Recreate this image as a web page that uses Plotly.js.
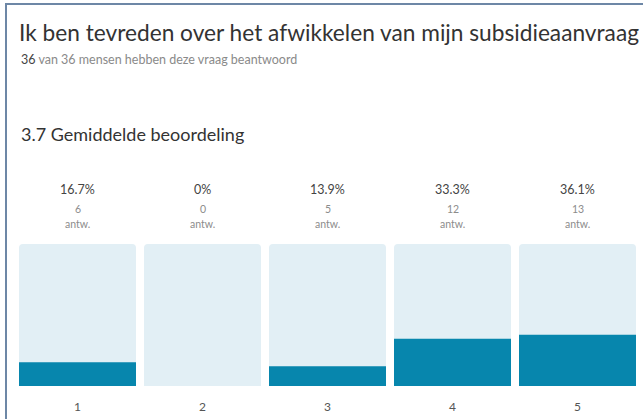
<!DOCTYPE html>
<html>
<head>
<meta charset="utf-8">
<script src="https://cdn.plot.ly/plotly-3.0.1.min.js"></script>
<style>
    body { margin: 0; background: #fff; }
    #frame {
        position: absolute; left: 0; top: 0; width: 643px; height: 419px;
        box-sizing: border-box;
        border-left: 2px solid #6d87a6; border-top: 2px solid #6d87a6;
        margin-left: 5px; margin-top: 3px;
    }
    #chart { position: absolute; left: 0; top: 0; width: 643px; height: 419px; }
</style>
</head>
<body>
<div id="frame"></div>
<div id="chart"></div>
<script>
    // Answer scale and results
    const categories = ['1', '2', '3', '4', '5'];
    const percentages = [16.7, 0, 13.9, 33.3, 36.1];
    const counts = [6, 0, 5, 12, 13];
    const fullScale = [100, 100, 100, 100, 100];

    const W = 643, H = 419;
    const margin = { l: 15, r: 3, t: 244, b: 33 };
    const plotW = W - margin.l - margin.r;
    const plotH = H - margin.t - margin.b;
    // pixel -> paper helpers for the text blocks
    const px = x => (x - margin.l) / plotW;
    const py = y => (H - margin.b - y) / plotH;

    const font = 'Lato, "Open Sans", sans-serif';

    const annotations = [
        {
            text: '<span style="color:#444">36</span> van 36 mensen hebben deze vraag beantwoord',
            xref: 'paper', yref: 'paper', x: px(19), y: py(59),
            xanchor: 'left', yanchor: 'middle', showarrow: false,
            font: { family: font, size: 12.5, color: '#8a8a8a' }
        },
        {
            text: '3.7 Gemiddelde beoordeling',
            xref: 'paper', yref: 'paper', x: px(19), y: py(134),
            xanchor: 'left', yanchor: 'middle', showarrow: false,
            font: { family: font, size: 18, color: '#333' }
        }
    ];

    categories.forEach((c, i) => {
        annotations.push({
            text: percentages[i] + '%',
            xref: 'x', yref: 'paper', x: c, y: py(189),
            xanchor: 'center', yanchor: 'middle', showarrow: false,
            font: { family: font, size: 12.5, color: '#444' }
        });
        annotations.push({
            text: String(counts[i]),
            xref: 'x', yref: 'paper', x: c, y: py(209),
            xanchor: 'center', yanchor: 'middle', showarrow: false,
            font: { family: font, size: 10.5, color: '#8c8c8c' }
        });
        annotations.push({
            text: 'antw.',
            xref: 'x', yref: 'paper', x: c, y: py(224),
            xanchor: 'center', yanchor: 'middle', showarrow: false,
            font: { family: font, size: 10.5, color: '#8c8c8c' }
        });
    });

    Plotly.newPlot('chart', [
        {
            x: categories, y: fullScale, type: 'bar',
            marker: { color: '#e2eff5', cornerradius: 4 },
            hoverinfo: 'skip'
        },
        {
            x: categories, y: percentages, type: 'bar',
            marker: { color: '#0786ad', cornerradius: 3 }
        }
    ], {
        width: W, height: H,
        barmode: 'overlay', bargap: 0.064,
        showlegend: false,
        paper_bgcolor: 'rgba(0,0,0,0)',
        plot_bgcolor: 'rgba(0,0,0,0)',
        margin: margin,
        title: {
            text: 'Ik ben tevreden over het afwikkelen van mijn subsidieaanvraag',
            xref: 'container', yref: 'container',
            x: 19 / W, y: 1 - 33 / H, xanchor: 'left', yanchor: 'middle',
            font: { family: font, size: 22.7, color: '#333' }
        },
        xaxis: {
            showgrid: false, zeroline: false, showline: false, ticks: '',
            ticklabelstandoff: 12,
            tickfont: { family: font, size: 12, color: '#555' },
            fixedrange: true
        },
        yaxis: {
            range: [0, 100], visible: false, fixedrange: true
        },
        annotations: annotations
    }, { displayModeBar: false, staticPlot: true });
</script>
</body>
</html>
